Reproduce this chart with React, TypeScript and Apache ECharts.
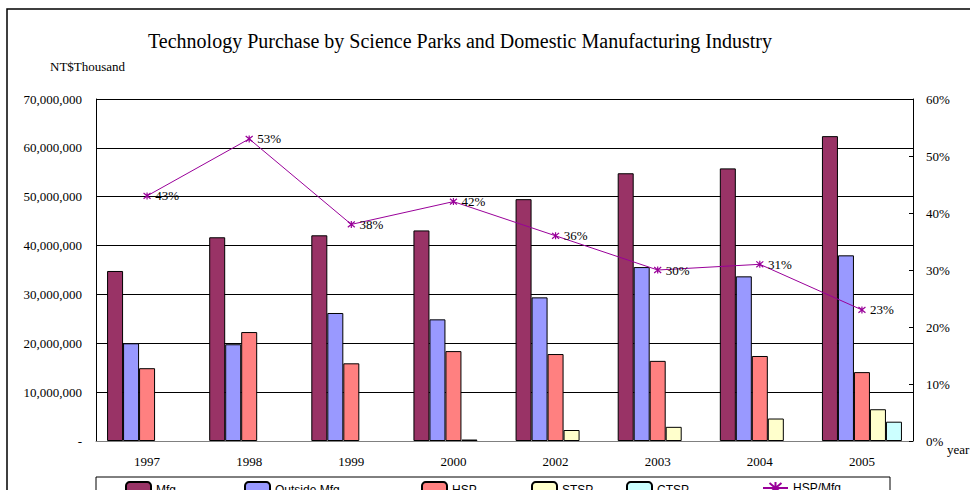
import React, { useEffect, useRef } from "react";
import * as echarts from "echarts";

const years = ["1997", "1998", "1999", "2000", "2002", "2003", "2004", "2005"];
const mfg = [34800000, 41700000, 42100000, 43100000, 49500000, 54800000, 55800000, 62400000];
const outsideMfg = [20000000, 19800000, 26200000, 24900000, 29400000, 35600000, 33700000, 38000000];
const hsp = [14900000, 22300000, 15900000, 18400000, 17800000, 16400000, 17400000, 14100000];
const stsp = [null, null, null, 300000, 2250000, 2900000, 4600000, 6500000];
const ctsp = [null, null, null, null, null, null, null, 3950000];
const hspRatio = [43, 53, 38, 42, 36, 30, 31, 23];

const serif = "'Liberation Serif', 'Times New Roman', serif";
const sans = "'Liberation Sans', Arial, sans-serif";

export default function App() {
  const ref = useRef<HTMLDivElement>(null);
  useEffect(() => {
    if (!ref.current) return;
    const chart = echarts.init(ref.current, null, { renderer: "svg" });
    const barStyle = (color: string) => ({
      color,
      borderColor: "#000",
      borderWidth: 1,
    });
    const legendItem = (name: string, left: number) => ({
      data: [name],
      left,
      top: 481,
      padding: 0,
      itemWidth: 25,
      itemHeight: 15,
      textStyle: { fontFamily: sans, fontSize: 12, color: "#000" },
      selectedMode: false,
    });
    chart.setOption({
      animation: false,
      backgroundColor: "#fff",
      graphic: [
        {
          type: "rect",
          shape: { x: 7, y: 9, width: 1000, height: 600 },
          style: { fill: "none", stroke: "#000", lineWidth: 1.5 },
          silent: true,
          z: -1,
        },
        {
          type: "rect",
          shape: { x: 96, y: 477, width: 794, height: 40 },
          style: { fill: "none", stroke: "#000", lineWidth: 1 },
          silent: true,
        },
        {
          type: "text",
          x: 460,
          y: 41,
          style: {
            text: "Technology Purchase by Science Parks and Domestic Manufacturing Industry",
            fontFamily: serif,
            fontSize: 20,
            fill: "#000",
            align: "center",
            verticalAlign: "middle",
          },
        },
        {
          type: "text",
          x: 50,
          y: 60,
          style: { text: "NT$Thousand", fontFamily: serif, fontSize: 13, fill: "#000" },
        },
        {
          type: "text",
          x: 947,
          y: 443,
          style: { text: "year", fontFamily: serif, fontSize: 13, fill: "#000" },
        },
      ],
      legend: [
        legendItem("Mfg.", 125),
        legendItem("Outside Mfg.", 244),
        legendItem("HSP", 421),
        legendItem("STSP", 531),
        legendItem("CTSP", 626),
        legendItem("HSP/Mfg.", 762),
      ],
      grid: { left: 96, right: 57, top: 99, bottom: 49 },
      xAxis: {
        type: "category",
        data: years,
        axisLine: { lineStyle: { color: "#808080", width: 1 } },
        axisTick: { inside: true, length: 4, lineStyle: { color: "#000" } },
        axisLabel: { fontFamily: serif, fontSize: 13, color: "#000", margin: 14 },
      },
      yAxis: [
        {
          type: "value",
          min: 0,
          max: 70000000,
          interval: 10000000,
          axisLine: { show: true, lineStyle: { color: "#000" } },
          axisTick: { show: false },
          splitLine: { show: true, lineStyle: { color: "#000", width: 1 } },
          axisLabel: {
            fontFamily: serif,
            fontSize: 13,
            color: "#000",
            margin: 14,
            formatter: (v: number) => (v === 0 ? "-" : v.toLocaleString("en-US")),
          },
        },
        {
          type: "value",
          min: 0,
          max: 60,
          interval: 10,
          position: "right",
          axisLine: { show: true, lineStyle: { color: "#000" } },
          axisTick: { show: true, inside: true, length: 4, lineStyle: { color: "#000" } },
          splitLine: { show: false },
          axisLabel: { fontFamily: serif, fontSize: 13, color: "#000", margin: 13, formatter: "{value}%" },
        },
      ],
      series: [
        { name: "Mfg.", type: "bar", data: mfg, barWidth: 16, barGap: "0%", itemStyle: barStyle("#993366") },
        { name: "Outside Mfg.", type: "bar", data: outsideMfg, barWidth: 16, barGap: "0%", itemStyle: barStyle("#9999FF") },
        { name: "HSP", type: "bar", data: hsp, barWidth: 16, barGap: "0%", itemStyle: barStyle("#FF8080") },
        { name: "STSP", type: "bar", data: stsp, barWidth: 16, barGap: "0%", itemStyle: barStyle("#FFFFCC") },
        { name: "CTSP", type: "bar", data: ctsp, barWidth: 16, barGap: "0%", itemStyle: barStyle("#CCFFFF") },
        {
          name: "HSP/Mfg.",
          type: "line",
          yAxisIndex: 1,
          data: hspRatio,
          symbol: "path://M0,0L10,10M10,0L0,10M5,-1L5,11",
          symbolSize: 7,
          lineStyle: { color: "#990099", width: 1 },
          itemStyle: { color: "#990099", borderColor: "#990099", borderWidth: 1.2 },
          label: {
            show: true,
            position: "right",
            distance: 4,
            formatter: "{c}%",
            fontFamily: serif,
            fontSize: 13,
            color: "#000",
          },
          z: 5,
        },
      ],
    });
    return () => chart.dispose();
  }, []);
  return (
    <div
      ref={ref}
      style={{ position: "fixed", left: 0, top: 0, width: 970, height: 490, background: "#fff" }}
    />
  );
}
